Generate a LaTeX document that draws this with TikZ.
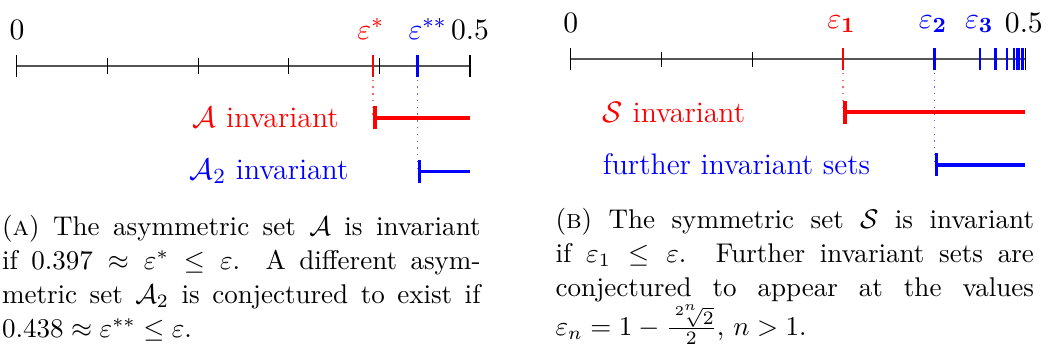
\documentclass[tikz,border=0pt]{standalone}
\usepackage{amsmath,amssymb}
\definecolor{setred}{RGB}{255,0,0}
\definecolor{setblue}{RGB}{0,0,255}
\definecolor{axisgray}{RGB}{85,85,85}
\usetikzlibrary{arrows.meta,calc}
\tikzset{
  axisline/.style={draw=axisgray, line width=0.6pt},
  tickmark/.style={draw=black, line width=0.4pt},
  epstick/.style={line width=1pt},
  setrange/.style={line width=1.4pt, {Bar[width=8.6pt]}-},
  guide/.style={dotted, line width=0.5pt},
  ticklabel/.style={font=\fontsize{11}{13}\selectfont, anchor=south, inner sep=0pt},
  setlabel/.style={font=\fontsize{11}{13}\selectfont, anchor=west, inner sep=0pt},
  subcaption/.style={font=\fontsize{10}{12.6}\selectfont, text width=6.22cm, align=justify, anchor=base west, inner sep=0pt}
}

\begin{document}
\begin{tikzpicture}
  \useasboundingbox (0,0) rectangle (13.624,4.55);

  % (a) axis 0 .. 0.5
  \coordinate (l0) at (0.22,3.69);
  \coordinate (l5) at (6.11,3.69);
  \draw[axisline] (l0) -- (l5);
  \foreach \i in {1,...,4} \draw[tickmark] ($(l0)+(\i*1.178,-0.1)$) -- ++(0,0.2);
  \foreach \p in {l0,l5} \draw[tickmark] ($(\p)+(0,-0.14)$) -- ++(0,0.28);
  \node[ticklabel] (la0) at ($(l0)+(0,0.34)$) {$0$};
  \node[ticklabel] (la5) at ($(l5)+(0,0.34)$) {$0.5$};

  % (a) epsilon* and epsilon**
  \coordinate (es) at (4.85,3.69);
  \coordinate (ess) at (5.43,3.69);
  \coordinate (As) at (4.85,3.02);
  \coordinate (Ae) at (6.11,3.02);
  \coordinate (Bs) at (5.43,2.32);
  \coordinate (Be) at (6.11,2.32);
  \draw[guide, setred!60] (es) -- (As);
  \draw[guide, setblue!60] (ess) -- (Bs);
  \draw[epstick, setred] ($(es)+(0,-0.14)$) -- ++(0,0.28);
  \draw[epstick, setblue] ($(ess)+(0,-0.14)$) -- ++(0,0.28);
  \node[ticklabel, text=setred] (les) at (4.82,4.03) {$\varepsilon^*$};
  \node[ticklabel, text=setblue] (less) at (5.56,4.03) {$\varepsilon^{**}$};

  % (a) invariant ranges
  \draw[setrange, setred] (As) -- (Ae);
  \draw[setrange, setblue] (Bs) -- (Be);
  \node[setlabel, text=setred] (Alab) at (2.50,3.02) {$\mathcal{A}$ invariant};
  \node[setlabel, text=setblue] (Blab) at (2.46,2.32) {$\mathcal{A}_2$ invariant};

  % (a) caption
  \node[subcaption] (capA) at (0.02,1.495) {(\textsc{a}) The asymmetric set $\mathcal{A}$ is invariant\linebreak
    if $0.397 \approx \varepsilon^* \leq \varepsilon$. A different asym-\linebreak
    metric set $\mathcal{A}_2$ is conjectured to exist if\linebreak
    $0.438 \approx \varepsilon^{**} \leq \varepsilon$.};

  % (b) axis 0 .. 0.5
  \coordinate (r0) at (7.42,3.78);
  \coordinate (r5) at (13.33,3.78);
  \draw[axisline] (r0) -- (r5);
  \foreach \i in {1,...,4} \draw[tickmark] ($(r0)+(\i*1.182,-0.1)$) -- ++(0,0.2);
  \foreach \p in {r0,r5} \draw[tickmark] ($(\p)+(0,-0.14)$) -- ++(0,0.28);
  \node[ticklabel] (ra0) at ($(r0)+(0,0.34)$) {$0$};
  \node[ticklabel] (ra5) at (13.31,4.12) {$0.5$};

  % (b) epsilon_n
  \coordinate (e1) at (10.96,3.78);
  \coordinate (e2) at (12.15,3.78);
  \coordinate (Ss) at (10.96,3.09);
  \coordinate (Se) at (13.33,3.09);
  \coordinate (Fs) at (12.15,2.41);
  \coordinate (Fe) at (13.33,2.41);
  \draw[guide, setred!60] (e1) -- (Ss);
  \draw[guide, setblue!60] (e2) -- (Fs);
  \draw[epstick, setred] ($(e1)+(0,-0.14)$) -- ++(0,0.28);
  \draw[epstick, setblue] ($(e2)+(0,-0.14)$) -- ++(0,0.28);
  \foreach \x in {12.74,12.94,13.09,13.18,13.22,13.25,13.29}
    \draw[epstick, setblue, line width=0.9pt] (\x,3.64) -- (\x,3.92);
  \node[ticklabel, text=setred] (le1) at (10.94,4.12) {$\varepsilon_{\mathbf{1}}$};
  \node[ticklabel, text=setblue] (le2) at (12.13,4.12) {$\varepsilon_{\mathbf{2}}$};
  \node[ticklabel, text=setblue] (le3) at (12.73,4.12) {$\varepsilon_{\mathbf{3}}$};

  % (b) invariant ranges
  \draw[setrange, setred] (Ss) -- (Se);
  \draw[setrange, setblue] (Fs) -- (Fe);
  \node[setlabel, text=setred] (Slab) at (7.83,3.09) {$\mathcal{S}$ invariant};
  \node[setlabel, text=setblue] (Flab) at (7.83,2.41) {further invariant sets};

  % (b) caption
  \node[subcaption] (capB) at (7.215,1.586) {(\textsc{b}) The symmetric set $\mathcal{S}$ is invariant\linebreak
    if $\varepsilon_1 \leq \varepsilon$. Further invariant sets are\linebreak
    conjectured to appear at the values\linebreak
    $\varepsilon_n = 1 - \frac{\sqrt[2^n]{2}}{2}$, $n > 1$.};
\end{tikzpicture}
\end{document}
